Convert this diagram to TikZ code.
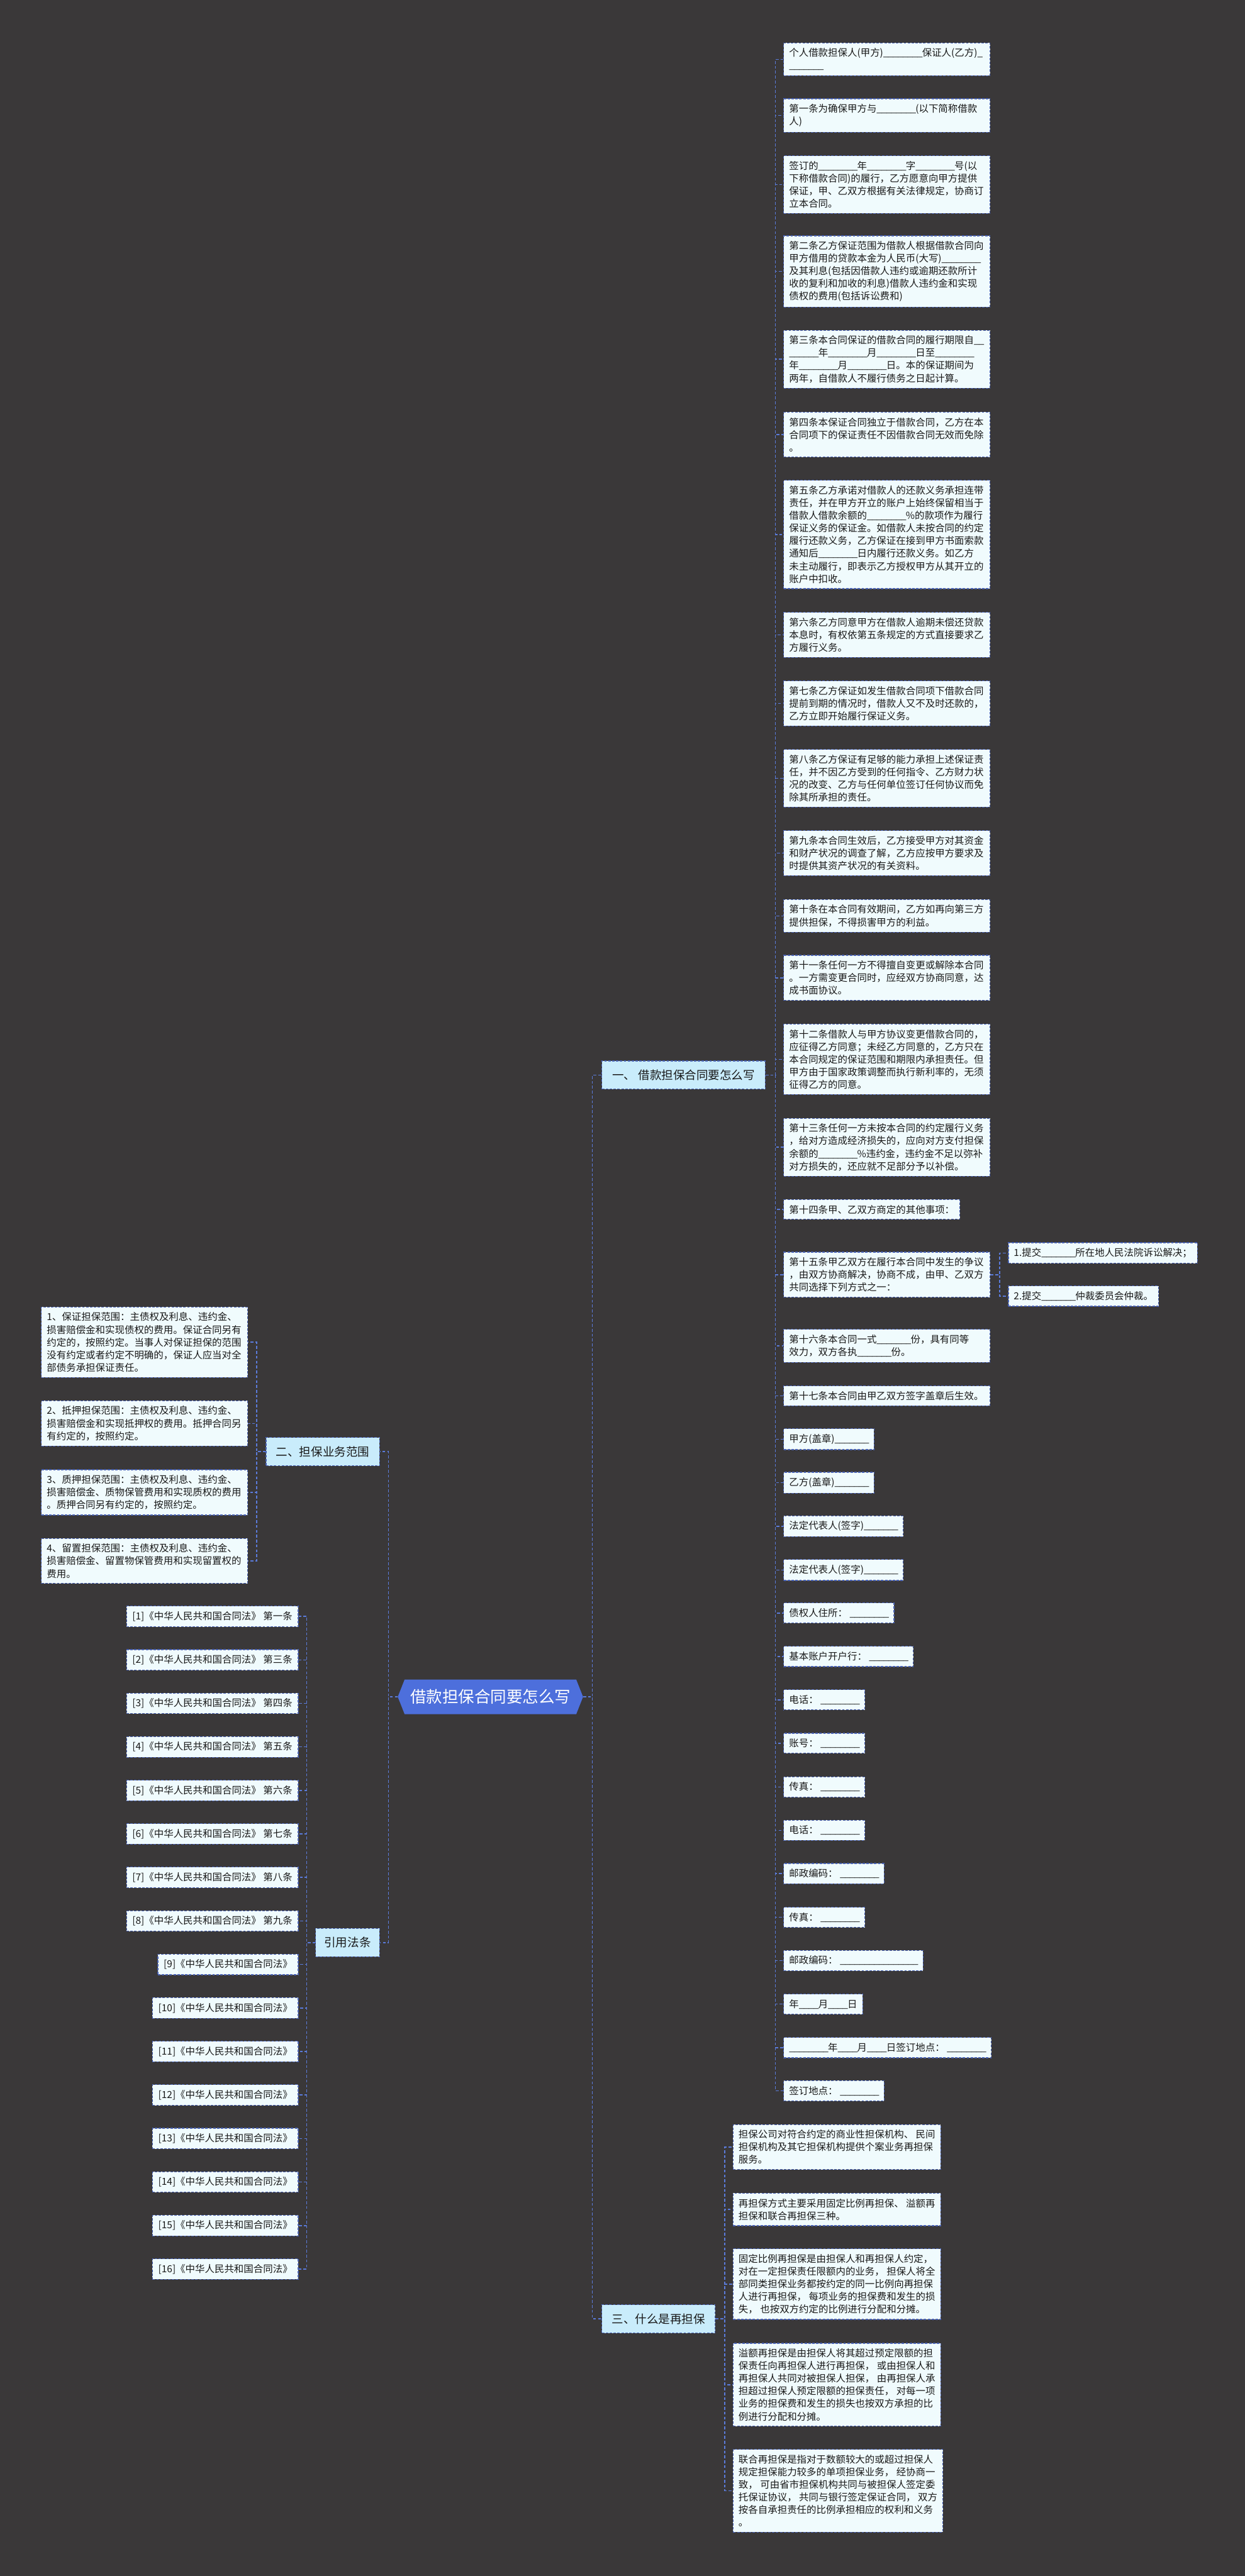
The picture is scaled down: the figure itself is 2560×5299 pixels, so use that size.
\documentclass[tikz,border=0pt]{standalone}
\usepackage{fontspec}
\usepackage{tikz}
\usepackage{xcolor}
\newfontfamily\cjk{Noto Sans CJK SC}
\definecolor{bgdark}{HTML}{3A3839}
\definecolor{leaffill}{HTML}{F0FBFD}
\definecolor{leafline}{HTML}{4A63B5}
\definecolor{branchfill}{HTML}{C9ECFB}
\definecolor{linkblue}{HTML}{5B7BDA}
\definecolor{rootfill}{HTML}{4D6FDC}
\newcommand{\fillin}[1]{\foreach \j in {1,...,#1}{\makebox[10pt][l]{\_}}}

\begin{document}
\begin{tikzpicture}[x=1pt, y=-1pt,
                    leaf/.style={draw=leafline, fill=leaffill, dash pattern=on 5pt off 3pt, line width=1.5pt,
                                 inner xsep=11pt, inner ysep=11pt, align=left, text=black!90,
                                 font=\cjk\fontsize{20}{26}\selectfont},
                    wide/.style={leaf, text width=402pt},
                    wider/.style={leaf, minimum width=424pt},
                    law/.style={leaf, inner xsep=12pt},
                    branch/.style={draw=leafline, fill=branchfill, dash pattern=on 5pt off 3pt, line width=1.5pt,
                                   minimum height=58pt, inner xsep=8pt, text=black!90,
                                   font=\cjk\fontsize{24}{28}\selectfont},
                    root/.style={minimum width=381pt, minimum height=71pt, text=white,
                                 font=\cjk\fontsize{33}{38}\selectfont,
                                 path picture={\fill[rootfill] (path picture bounding box.west)
                                   -- ([xshift=14pt]path picture bounding box.north west)
                                   -- ([xshift=-14pt]path picture bounding box.north east)
                                   -- (path picture bounding box.east)
                                   -- ([xshift=-14pt]path picture bounding box.south east)
                                   -- ([xshift=14pt]path picture bounding box.south west) -- cycle;}},
                    link/.style={draw=linkblue, line width=2pt, dash pattern=on 6pt off 4pt}]
    \fill[bgdark] (0,0) rectangle (2560,5299);

    \node[root] (root) at (1008.5,3490.5) {借款担保合同要怎么写};
    \node[branch, anchor=west, minimum width=336pt] (b1) at (1237,2211.5) {一、 借款担保合同要怎么写};
    \node[branch, anchor=east, minimum width=233pt] (b2) at (781,2986) {二、担保业务范围};
    \node[branch, anchor=west, minimum width=233pt] (b3) at (1237,4770) {三、什么是再担保};
    \node[branch, anchor=east, minimum width=131pt] (b4) at (781,3996) {引用法条};

    \node[wide, anchor=west] (c1) at (1611,122) {个人借款担保人(甲方)\fillin{8}保证人(乙方)\fillin{1}\\\fillin{7}};
    \node[wide, anchor=west] (c2) at (1611,237.5) {第一条为确保甲方与\fillin{8}(以下简称借款\\人)};
    \node[wide, anchor=west] (c3) at (1611,379.5) {签订的\fillin{8}年\fillin{8}字\fillin{8}号(以\\下称借款合同)的履行，乙方愿意向甲方提供\\保证，甲、乙双方根据有关法律规定，协商订\\立本合同。};
    \node[wide, anchor=west] (c4) at (1611,558.5) {第二条乙方保证范围为借款人根据借款合同向\\甲方借用的贷款本金为人民币(大写)\fillin{8}\\及其利息(包括因借款人违约或逾期还款所计\\收的复利和加收的利息)借款人违约金和实现\\债权的费用(包括诉讼费和)};
    \node[wide, anchor=west] (c5) at (1611,739) {第三条本合同保证的借款合同的履行期限自\fillin{2}\\\fillin{6}年\fillin{8}月\fillin{8}日至\fillin{8}\\年\fillin{8}月\fillin{8}日。本的保证期间为\\两年，自借款人不履行债务之日起计算。};
    \node[wide, anchor=west] (c6) at (1611,894) {第四条本保证合同独立于借款合同，乙方在本\\合同项下的保证责任不因借款合同无效而免除\\。};
    \node[wide, anchor=west] (c7) at (1611,1099.5) {第五条乙方承诺对借款人的还款义务承担连带\\责任，并在甲方开立的账户上始终保留相当于\\借款人借款余额的\fillin{8}\%的款项作为履行\\保证义务的保证金。如借款人未按合同的约定\\履行还款义务，乙方保证在接到甲方书面索款\\通知后\fillin{8}日内履行还款义务。如乙方\\未主动履行，即表示乙方授权甲方从其开立的\\账户中扣收。};
    \node[wide, anchor=west] (c8) at (1611,1306) {第六条乙方同意甲方在借款人逾期未偿还贷款\\本息时，有权依第五条规定的方式直接要求乙\\方履行义务。};
    \node[wide, anchor=west] (c9) at (1611,1447) {第七条乙方保证如发生借款合同项下借款合同\\提前到期的情况时，借款人又不及时还款的，\\乙方立即开始履行保证义务。};
    \node[wide, anchor=west] (c10) at (1611,1601) {第八条乙方保证有足够的能力承担上述保证责\\任，并不因乙方受到的任何指令、乙方财力状\\况的改变、乙方与任何单位签订任何协议而免\\除其所承担的责任。};
    \node[wide, anchor=west] (c11) at (1611,1755) {第九条本合同生效后，乙方接受甲方对其资金\\和财产状况的调查了解，乙方应按甲方要求及\\时提供其资产状况的有关资料。};
    \node[wide, anchor=west] (c12) at (1611,1884) {第十条在本合同有效期间，乙方如再向第三方\\提供担保，不得损害甲方的利益。};
    \node[wide, anchor=west] (c13) at (1611,2011.5) {第十一条任何一方不得擅自变更或解除本合同\\。一方需变更合同时，应经双方协商同意，达\\成书面协议。};
    \node[wide, anchor=west] (c14) at (1611,2179) {第十二条借款人与甲方协议变更借款合同的，\\应征得乙方同意；未经乙方同意的，乙方只在\\本合同规定的保证范围和期限内承担责任。但\\甲方由于国家政策调整而执行新利率的，无须\\征得乙方的同意。};
    \node[wide, anchor=west] (c15) at (1611,2360) {第十三条任何一方未按本合同的约定履行义务\\，给对方造成经济损失的，应向对方支付担保\\余额的\fillin{8}\%违约金，违约金不足以弥补\\对方损失的，还应就不足部分予以补偿。};
    \node[leaf, anchor=west] (c16) at (1611,2488) {第十四条甲、乙双方商定的其他事项：};
    \node[wide, anchor=west] (c17) at (1611,2622) {第十五条甲乙双方在履行本合同中发生的争议\\，由双方协商解决，协商不成，由甲、乙双方\\共同选择下列方式之一：};
    \node[leaf, anchor=west] (s1) at (2073,2577.5) {1.提交\fillin{7}所在地人民法院诉讼解决；};
    \node[leaf, anchor=west] (s2) at (2073,2666) {2.提交\fillin{7}仲裁委员会仲裁。};
    \node[wide, anchor=west] (c18) at (1611,2768.5) {第十六条本合同一式\fillin{7}份，具有同等\\效力，双方各执\fillin{7}份。};
    \node[wide, anchor=west] (c19) at (1611,2871.5) {第十七条本合同由甲乙双方签字盖章后生效。};
    \node[leaf, anchor=west] (c20) at (1611,2960.5) {甲方(盖章)\fillin{7}};
    \node[leaf, anchor=west] (c21) at (1611,3050) {乙方(盖章)\fillin{7}};
    \node[leaf, anchor=west] (c22) at (1611,3139.5) {法定代表人(签字)\fillin{7}};
    \node[leaf, anchor=west] (c23) at (1611,3229.5) {法定代表人(签字)\fillin{7}};
    \node[leaf, anchor=west] (c24) at (1611,3318) {债权人住所： \fillin{8}};
    \node[leaf, anchor=west] (c25) at (1611,3407.5) {基本账户开户行： \fillin{8}};
    \node[leaf, anchor=west] (c26) at (1611,3496.5) {电话： \fillin{8}};
    \node[leaf, anchor=west] (c27) at (1611,3586) {账号： \fillin{8}};
    \node[leaf, anchor=west] (c28) at (1611,3676) {传真： \fillin{8}};
    \node[leaf, anchor=west] (c29) at (1611,3765) {电话： \fillin{8}};
    \node[leaf, anchor=west] (c30) at (1611,3854) {邮政编码： \fillin{8}};
    \node[leaf, anchor=west] (c31) at (1611,3944) {传真： \fillin{8}};
    \node[leaf, anchor=west] (c32) at (1611,4033) {邮政编码： \fillin{16}};
    \node[leaf, anchor=west] (c33) at (1611,4122.5) {年\fillin{4}月\fillin{4}日};
    \node[leaf, anchor=west] (c34) at (1611,4212) {\fillin{8}年\fillin{4}月\fillin{4}日签订地点： \fillin{8}};
    \node[leaf, anchor=west] (c35) at (1611,4301) {签订地点： \fillin{8}};

    \node[wide, anchor=east] (d1) at (510,2761) {1、保证担保范围：主债权及利息、违约金、\\损害赔偿金和实现债权的费用。保证合同另有\\约定的，按照约定。当事人对保证担保的范围\\没有约定或者约定不明确的，保证人应当对全\\部债务承担保证责任。};
    \node[wide, anchor=east] (d2) at (510,2928) {2、抵押担保范围：主债权及利息、违约金、\\损害赔偿金和实现抵押权的费用。抵押合同另\\有约定的，按照约定。};
    \node[wide, anchor=east] (d3) at (510,3070) {3、质押担保范围：主债权及利息、违约金、\\损害赔偿金、质物保管费用和实现质权的费用\\。质押合同另有约定的，按照约定。};
    \node[wide, anchor=east] (d4) at (510,3211) {4、留置担保范围：主债权及利息、违约金、\\损害赔偿金、留置物保管费用和实现留置权的\\费用。};

    \foreach \i/\t in {1/一,2/三,3/四,4/五,5/六,6/七,7/八,8/九}
        \node[law, anchor=east] (e\i) at (614,{3325+89.5*(\i-1)}) {[\i]《中华人民共和国合同法》 第\t 条};
    \foreach \i in {9,...,16}
        \node[law, anchor=east] (e\i) at (614,{3325+89.5*(\i-1)}) {[\i]《中华人民共和国合同法》};

    \node[wider, anchor=west] (f1) at (1507,4416.5) {担保公司对符合约定的商业性担保机构、 民间\\担保机构及其它担保机构提供个案业务再担保\\服务。};
    \node[wider, anchor=west] (f2) at (1507,4545) {再担保方式主要采用固定比例再担保、 溢额再\\担保和联合再担保三种。};
    \node[wider, anchor=west] (f3) at (1507,4698.5) {固定比例再担保是由担保人和再担保人约定，\\对在一定担保责任限额内的业务， 担保人将全\\部同类担保业务都按约定的同一比例向再担保\\人进行再担保， 每项业务的担保费和发生的损\\失， 也按双方约定的比例进行分配和分摊。};
    \node[wider, anchor=west] (f4) at (1507,4905.5) {溢额再担保是由担保人将其超过预定限额的担\\保责任向再担保人进行再担保， 或由担保人和\\再担保人共同对被担保人担保， 由再担保人承\\担超过担保人预定限额的担保责任， 对每一项\\业务的担保费和发生的损失也按双方承担的比\\例进行分配和分摊。};
    \node[wider, anchor=west] (f5) at (1507,5123.5) {联合再担保是指对于数额较大的或超过担保人\\规定担保能力较多的单项担保业务， 经协商一\\致， 可由省市担保机构共同与被担保人签定委\\托保证协议， 共同与银行签定保证合同， 双方\\按各自承担责任的比例承担相应的权利和义务\\。};

    \foreach \b in {b1,b3}
        \draw[link] (root.east) -- ++(19pt,0) |- (\b.west);
    \foreach \b in {b2,b4}
        \draw[link] (root.west) -- ++(-19pt,0) |- (\b.east);
    \foreach \i in {1,...,35}
        \draw[link] (b1.east) -- ++(20pt,0) |- (c\i.west);
    \foreach \i in {1,2}
        \draw[link] (c17.east) -- ++(19pt,0) |- (s\i.west);
    \foreach \i in {1,...,4}
        \draw[link] (b2.west) -- ++(-19pt,0) |- (d\i.east);
    \foreach \i in {1,...,16}
        \draw[link] (b4.west) -- ++(-18pt,0) |- (e\i.east);
    \foreach \i in {1,...,5}
        \draw[link] (b3.east) -- ++(19pt,0) |- (f\i.west);
\end{tikzpicture}
\end{document}
